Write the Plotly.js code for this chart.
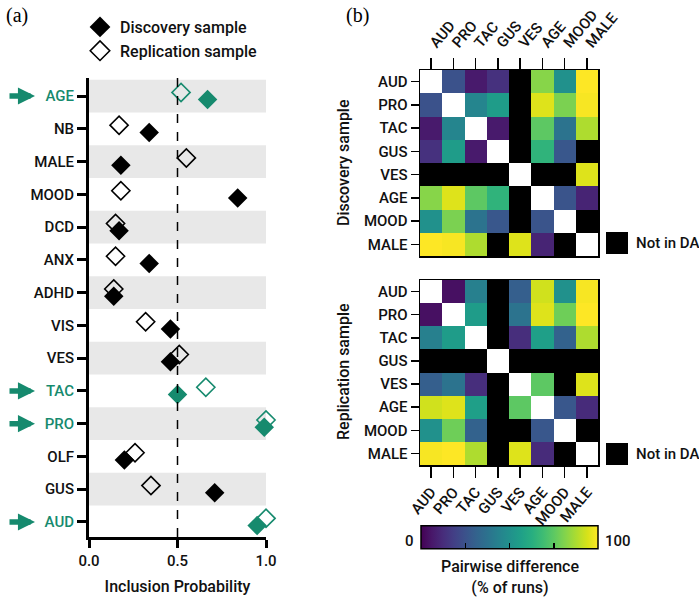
<!DOCTYPE html>
<html><head><meta charset="utf-8">
<script src="https://cdn.plot.ly/plotly-3.0.1.min.js"></script>
<style>body{margin:0;background:#fff}#plot{width:699px;height:603px}</style>
</head><body><div id="plot"></div>
<script>
// ---------- Panel (a) data ----------
const variables = ["AGE","NB","MALE","MOOD","DCD","ANX","ADHD","VIS","VES","TAC","PRO","OLF","GUS","AUD"];
const highlighted = ["AGE","TAC","PRO","AUD"];
const discoveryProb   = [0.67,0.34,0.18,0.84,0.17,0.34,0.14,0.46,0.46,0.50,0.99,0.20,0.71,0.95];
const replicationProb = [0.52,0.17,0.55,0.18,0.15,0.15,0.14,0.32,0.51,0.66,1.00,0.26,0.35,1.00];
const xTickVals = [0, 0.5, 1.0];
const xTickText = ["0.0","0.5","1.0"];

// ---------- Panel (b) data ----------
const hmLabels = ["AUD","PRO","TAC","GUS","VES","AGE","MOOD","MALE"];
// null = diagonal (white) or not in DA (black)
const discoveryDiff = [
  [null,  25,   7,  14, null,  82,  50, 100],
  [  25, null,  45,  55, null,  95,  80,  99],
  [   7,  45, null,   7, null,  75,  38,  88],
  [  14,  55,   7, null, null,  65,  27, null],
  [null, null, null, null, null, null, null,  95],
  [  82,  95,  75,  65, null, null,  26,  10],
  [  50,  80,  38,  27, null,  26, null, null],
  [ 100,  99,  88, null,  95,  10, null, null]
];
const replicationDiff = [
  [null,   4,  43, null,  30,  93,  50,  99],
  [   4, null,  55, null,  38,  95,  78, 100],
  [  43,  55, null, null,  13,  56,  31,  88],
  [null, null, null, null, null, null, null, null],
  [  30,  38,  13, null, null,  75, null,  95],
  [  93,  95,  56, null,  75, null,  27,  12],
  [  50,  78,  31, null, null,  27, null, null],
  [  99, 100,  88, null,  95,  12, null, null]
];
const cbarLabels = ["0","100"];

const GREEN = "#168a6e";
const FONT = "Roboto, 'Open Sans', sans-serif";
const WT = 500;
const W = 699, H = 603;
const px = v => v / W, py = v => 1 - v / H;
const F = (size, extra) => Object.assign({family: FONT, size: size, color: "#111", weight: WT}, extra || {});

const idx = variables.map((_, i) => i);
const isHi = variables.map(v => highlighted.includes(v));
const ptColor = isHi.map(h => h ? GREEN : "#000");
const tickText = variables.map((v, i) => isHi[i] ? `<span style="color:${GREEN}">${v}</span>` : v);

const traces = [];
// replication (open diamonds), slightly above
traces.push({
  type: "scatter", mode: "markers", x: replicationProb, y: idx.map(i => i - 0.11),
  xaxis: "x", yaxis: "y", showlegend: false, cliponaxis: false, hoverinfo: "skip",
  marker: {symbol: "diamond-open", size: 14, color: ptColor, line: {width: 1.6, color: ptColor}}
});
// discovery (filled diamonds), slightly below
traces.push({
  type: "scatter", mode: "markers", x: discoveryProb, y: idx.map(i => i + 0.11),
  xaxis: "x", yaxis: "y", showlegend: false, cliponaxis: false, hoverinfo: "skip",
  marker: {symbol: "diamond", size: 15, color: ptColor, line: {width: 0}}
});
// legend-only traces
traces.push({type: "scatter", mode: "markers", x: [null], y: [null], xaxis: "x", yaxis: "y",
  name: "Discovery sample", marker: {symbol: "diamond", size: 16, color: "#000"}});
traces.push({type: "scatter", mode: "markers", x: [null], y: [null], xaxis: "x", yaxis: "y",
  name: "Replication sample", marker: {symbol: "diamond-open", size: 15, color: "#000", line: {width: 1.6, color: "#000"}}});

function maskFrom(m) {
  return m.map((row, i) => row.map((v, j) => i === j ? 1 : (v === null ? 0 : null)));
}
function addHeatmap(mat, xa, ya, showscale) {
  traces.push({type: "heatmap", x: hmLabels, y: hmLabels, z: maskFrom(mat), xaxis: xa, yaxis: ya,
    colorscale: [[0, "#000"], [1, "#fff"]], zmin: 0, zmax: 1, showscale: false, hoverinfo: "skip"});
  const t = {type: "heatmap", x: hmLabels, y: hmLabels, z: mat, xaxis: xa, yaxis: ya,
    colorscale: "Viridis", zmin: 0, zmax: 100, showscale: showscale, hoverinfo: "skip"};
  if (showscale) {
    t.colorbar = {orientation: "h", x: px(509.5), xanchor: "center", y: py(540.5), yanchor: "middle",
      lenmode: "pixels", len: 177, thickness: 23, outlinewidth: 1.5, outlinecolor: "#000",
      tickvals: [25, 50, 75], ticks: "inside", ticklen: 6, tickwidth: 1.5, tickcolor: "#000",
      showticklabels: false, xpad: 0, ypad: 0};
  }
  traces.push(t);
}
addHeatmap(discoveryDiff, "x2", "y2", true);
addHeatmap(replicationDiff, "x3", "y3", false);

const shapes = [];
idx.forEach(i => {
  if (i % 2 === 0) shapes.push({type: "rect", xref: "x", yref: "y", x0: 0, x1: 1, y0: i - 0.5, y1: i + 0.5,
    fillcolor: "#e8e8e8", line: {width: 0}, layer: "below"});
});
shapes.push({type: "line", xref: "x", yref: "y domain", x0: 0.5, x1: 0.5, y0: 0, y1: 1,
  line: {color: "#000", width: 1.5, dash: "dash"}});
// "Not in DA" squares
[[232, 254], [443, 465]].forEach(([a, b]) => shapes.push({type: "rect", xref: "paper", yref: "paper",
  x0: px(606), x1: px(628), y0: py(b), y1: py(a), fillcolor: "#000", line: {width: 0}}));

const annotations = [];
highlighted.forEach(v => {
  annotations.push({xref: "paper", yref: "y", x: px(35), y: variables.indexOf(v), ax: -27, ay: 0,
    axref: "pixel", ayref: "pixel", text: "", showarrow: true, arrowhead: 2, arrowsize: 0.62,
    arrowwidth: 5.5, arrowcolor: GREEN});
});
annotations.push({xref: "paper", yref: "paper", x: px(4), y: py(16), xanchor: "left", yanchor: "middle",
  text: "(a)", showarrow: false, font: {family: "'Liberation Serif', serif", size: 20, color: "#000"}});
annotations.push({xref: "paper", yref: "paper", x: px(344), y: py(16), xanchor: "left", yanchor: "middle",
  text: "(b)", showarrow: false, font: {family: "'Liberation Serif', serif", size: 20, color: "#000"}});
annotations.push({xref: "paper", yref: "paper", x: px(343), y: py(163), textangle: -90, xanchor: "center", yanchor: "middle",
  text: "Discovery sample", showarrow: false, font: F(16)});
annotations.push({xref: "paper", yref: "paper", x: px(343), y: py(372), textangle: -90, xanchor: "center", yanchor: "middle",
  text: "Replication sample", showarrow: false, font: F(16)});
[243, 454].forEach(yy => annotations.push({xref: "paper", yref: "paper", x: px(634), y: py(yy),
  xanchor: "left", yanchor: "middle", text: "Not in DA", showarrow: false, font: F(15)}));
annotations.push({xref: "paper", yref: "paper", x: px(416), y: py(540.5), xanchor: "right", yanchor: "middle",
  text: cbarLabels[0], showarrow: false, font: F(15)});
annotations.push({xref: "paper", yref: "paper", x: px(603), y: py(540.5), xanchor: "left", yanchor: "middle",
  text: cbarLabels[1], showarrow: false, font: F(15)});
annotations.push({xref: "paper", yref: "paper", x: px(509.5), y: py(577), xanchor: "center", yanchor: "middle",
  text: "Pairwise difference<br>(% of runs)", showarrow: false, font: F(16)});

const hmAxis = (domain, extra) => Object.assign({domain: domain, showline: true, mirror: true, linewidth: 1.5,
  linecolor: "#000", ticks: "outside", ticklen: 8, tickwidth: 1.5, tickcolor: "#000", showgrid: false,
  zeroline: false, fixedrange: true, tickfont: F(15)}, extra);

const layout = {
  width: W, height: H, margin: {l: 0, r: 0, t: 0, b: 0}, paper_bgcolor: "#fff", plot_bgcolor: "rgba(0,0,0,0)",
  font: {family: FONT, color: "#111"},
  showlegend: true,
  legend: {x: px(80), y: py(10), xanchor: "left", yanchor: "top", bgcolor: "rgba(0,0,0,0)",
    font: F(16), tracegroupgap: 0, itemsizing: "trace"},
  xaxis: {domain: [px(89), px(266)], range: [0, 1], anchor: "y", showline: true, linewidth: 3, linecolor: "#000",
    ticks: "outside", ticklen: 8, tickwidth: 3, tickcolor: "#000", tickvals: xTickVals, ticktext: xTickText,
    showgrid: false, zeroline: false, tickfont: F(15),
    title: {text: "Inclusion Probability", font: F(16), standoff: 12}},
  yaxis: {domain: [py(537), py(78)], range: [13.46, -0.55], anchor: "x", showline: true, linewidth: 3, linecolor: "#000",
    ticks: "outside", ticklen: 9, tickwidth: 3, tickcolor: "#000", tickvals: idx, ticktext: tickText,
    showgrid: false, zeroline: false, tickfont: F(15)},
  xaxis2: hmAxis([px(420), px(598)], {anchor: "y2", side: "top", tickangle: -50, ticklen: 11, type: "category"}),
  yaxis2: hmAxis([py(256), py(70)], {anchor: "x2", autorange: "reversed", type: "category"}),
  xaxis3: hmAxis([px(420), px(598)], {anchor: "y3", side: "bottom", tickangle: -50, ticklen: 11, type: "category"}),
  yaxis3: hmAxis([py(465), py(280)], {anchor: "x3", autorange: "reversed", type: "category"}),
  shapes: shapes, annotations: annotations
};

Plotly.newPlot("plot", traces, layout, {displayModeBar: false, staticPlot: true});
</script></body></html>
